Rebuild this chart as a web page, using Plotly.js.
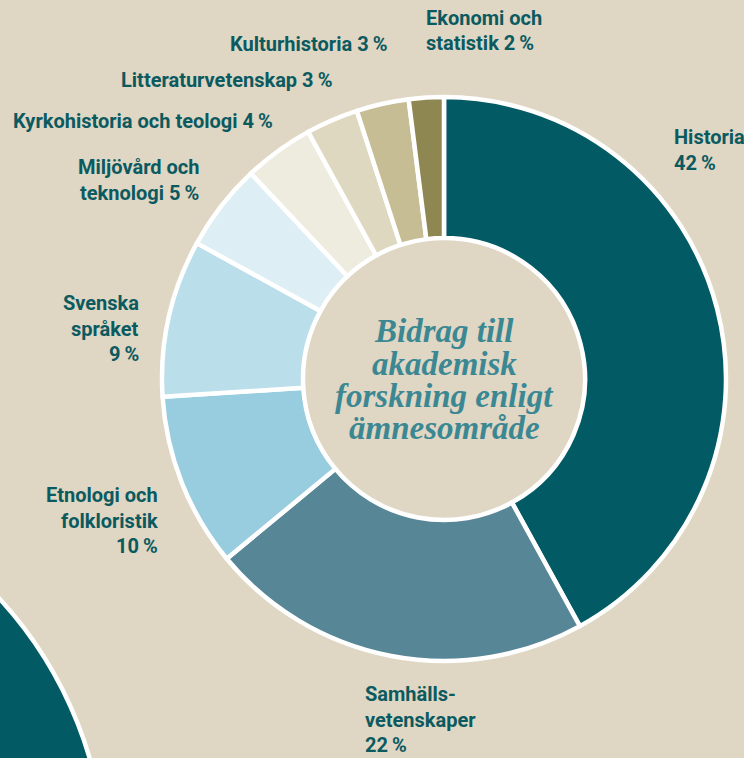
<!DOCTYPE html>
<html><head><meta charset="utf-8">
<script src="https://cdn.plot.ly/plotly-3.0.1.min.js"></script>
<style>html,body{margin:0;padding:0;background:#dfd6c4;}#chart{width:744px;height:758px;}</style>
</head><body><div id="chart"></div>
<script>
// ---- data ----
const categories = ["Historia","Samhällsvetenskaper","Etnologi och folkloristik","Svenska språket","Miljövård och teknologi","Kyrkohistoria och teologi","Litteraturvetenskap","Kulturhistoria","Ekonomi och statistik"];
const values = [42,22,10,9,5,4,3,3,2];
const sliceColors = ["#025b64","#578697","#98cde0","#badeea","#ddeef4","#eeebdf","#dfd8c1","#c6bd94","#8f8751"];
// label line breaks (name parts); "%" appended either on last name line or own line
const labelNameLines = [["Historia"],["Samhälls-","vetenskaper"],["Etnologi och","folkloristik"],["Svenska","språket"],["Miljövård och","teknologi"],["Kyrkohistoria och teologi"],["Litteraturvetenskap"],["Kulturhistoria"],["Ekonomi och","statistik"]];
const pctOwnLine = [true,true,true,true,false,false,false,false,false];
const centerTitle = ["Bidrag till","akademisk","forskning enligt","ämnesområde"];

// ---- layout helpers (pixel positions of label anchors) ----
const W=744,H=758;
const labelPos = [
 {x:672,y:137,a:"left"},{x:363,y:694,a:"left"},{x:160,y:495,a:"right"},{x:141,y:303,a:"right"},
 {x:201,y:167,a:"right"},{x:275,y:121,a:"right"},{x:334,y:80,a:"right"},{x:389,y:44,a:"right"},{x:424,y:18,a:"left"}];
const lineGap=25.5;
const px=x=>x/W, py=y=>1-y/H;

const annotations=[];
categories.forEach((c,i)=>{
  const lines = labelNameLines[i].slice();
  const pct = values[i]+"\u2009%";
  if(pctOwnLine[i]) lines.push(pct); else lines[lines.length-1]+= " "+pct;
  lines.forEach((t,k)=>{
    annotations.push({text:"<b>"+t+"</b>",xref:"paper",yref:"paper",x:px(labelPos[i].x),y:py(labelPos[i].y+k*lineGap),
      xanchor:labelPos[i].a,yanchor:"middle",showarrow:false,
      font:{family:"Roboto, 'Liberation Sans', sans-serif",size:20,color:"#0b5a60"}});
  });
});
const cx=444, cy=379, R=282;
centerTitle.forEach((t,k)=>{
  annotations.push({text:t,xref:"paper",yref:"paper",x:px(cx),y:py(331+k*32.5),xanchor:"center",yanchor:"middle",showarrow:false,
    font:{family:"'Liberation Serif', 'DejaVu Serif', serif",size:33,style:"italic",weight:700,color:"#3b8893"}});
});

const trace={type:"pie",labels:categories,values:values,sort:false,direction:"clockwise",rotation:0,hole:0.5,
  marker:{colors:sliceColors,line:{color:"#ffffff",width:4.5}},textinfo:"none",hoverinfo:"label+percent",
  domain:{x:[(cx-R)/W,(cx+R)/W],y:[(H-cy-R)/H,(H-cy+R)/H]}};

const layout={width:W,height:H,margin:{l:0,r:0,t:0,b:0},paper_bgcolor:"#dfd6c4",plot_bgcolor:"#dfd6c4",showlegend:false,
  annotations:annotations,
  shapes:[{type:"circle",xref:"paper",yref:"paper",layer:"below",x0:px(-298-404),x1:px(-298+404),y0:py(872+404),y1:py(872-404),
    fillcolor:"#025b64",line:{color:"#ffffff",width:4.5}}]};
Plotly.newPlot("chart",[trace],layout,{displayModeBar:false,staticPlot:true});
</script></body></html>
